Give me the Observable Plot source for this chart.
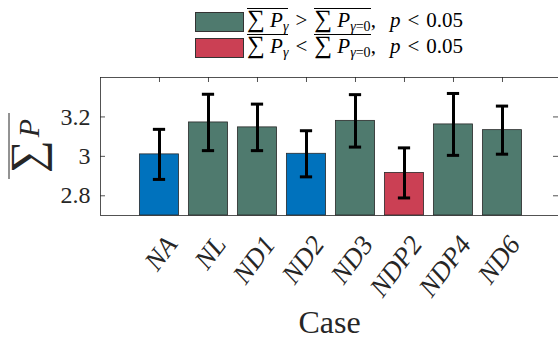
<!DOCTYPE html>
<html>
<head>
<meta charset="utf-8">
<script src="https://cdn.jsdelivr.net/npm/d3@7"></script>
<script src="https://cdn.jsdelivr.net/npm/@observablehq/plot@0.6"></script>
<style>
  html, body { margin: 0; padding: 0; background: white; }
  #wrap, #wrap * { font-family: "Liberation Serif" !important; }
  #wrap { position: relative; width: 558px; height: 343px; overflow: hidden; }
  #legend { position: absolute; left: 195px; top: 12px; font-size: 21px; color: #000; }
  .row { display: flex; align-items: center; height: 19.5px; margin-bottom: 6.5px; }
  .sw { display: inline-block; width: 47px; height: 17.5px; border: 1px solid #333; margin-right: 3px; }
  .txt { white-space: nowrap; line-height: 19px; }
  .ol { border-top: 1px solid #000; display: inline-block; line-height: 17px; padding-top: 1px; }
  .txt sub { font-size: 14px; vertical-align: -4px; }
  .sum { font-size: 25px; }
  .op { margin: 0 7px; }
  .gap { display: inline-block; width: 14px; }
</style>
</head>
<body>
<div id="wrap">
  <div id="chart"></div>
  <div id="legend"></div>
</div>
<script>
// ---- data ----
const cases  = ["NA", "NL", "ND1", "ND2", "ND3", "NDP2", "NDP4", "ND6"];
const means  = [3.010, 3.172, 3.147, 3.013, 3.180, 2.916, 3.162, 3.133];
const errors = [0.127, 0.143, 0.118, 0.117, 0.133, 0.127, 0.157, 0.122];
const groups = ["none", "greater", "greater", "none", "greater", "less", "greater", "greater"];
const yTicks = [2.8, 3, 3.2];
const groupNames  = ["none", "greater", "less"];
const groupColors = ["#0072BD", "#4F7A6E", "#CB4054"];
const yDomain = [2.7, 3.4];
const xDomain = [-0.204, 9.143];

const data = cases.map((c, k) => ({i: k + 1, name: c, mean: means[k], err: errors[k], g: groups[k]}));

const FONT = "Liberation Serif";
const W = 558, H = 343, mL = 100, mR = 0, mT = 77, mB = 128;
const frameW = W - mL - mR, frameH = H - mT - mB;

const chart = Plot.plot({
  width: W, height: H,
  marginLeft: mL, marginRight: mR, marginTop: mT, marginBottom: mB,
  x: {domain: xDomain, axis: null},
  y: {domain: yDomain, axis: null},
  color: {domain: groupNames, range: groupColors},
  style: {fontFamily: FONT, color: "#262626", background: "white", overflow: "visible"},
  marks: [
    Plot.tickX(data, {x: "i", insetTop: frameH - 5, stroke: "#262626", strokeWidth: 0.8}),
    Plot.rectY(data, {x1: d => d.i - 0.4, x2: d => d.i + 0.4, y1: () => yDomain[0], y2: "mean", fill: "g", stroke: "#2a2a2a", strokeWidth: 0.8}),
    Plot.ruleX(data, {x: "i", y1: d => d.mean - d.err, y2: d => d.mean + d.err, stroke: "black", strokeWidth: 3}),
    Plot.ruleY(data, {y: d => d.mean + d.err, x1: d => d.i - 0.125, x2: d => d.i + 0.125, stroke: "black", strokeWidth: 3}),
    Plot.ruleY(data, {y: d => d.mean - d.err, x1: d => d.i - 0.125, x2: d => d.i + 0.125, stroke: "black", strokeWidth: 3}),
    Plot.ruleY([yDomain[0], yDomain[1]], {stroke: "#262626", strokeWidth: 0.8}),
    Plot.ruleX([xDomain[0]], {stroke: "#262626", strokeWidth: 0.8}),
    Plot.tickX(data, {x: "i", insetBottom: frameH - 5, stroke: "#262626", strokeWidth: 0.8}),
    Plot.tickY(yTicks, {y: d => d, insetRight: frameW - 5, stroke: "#262626", strokeWidth: 0.8}),
    Plot.tickY(yTicks, {y: d => d, insetLeft: frameW - 5, stroke: "#262626", strokeWidth: 0.8}),
    Plot.text(yTicks, {y: d => d, text: d => (d === 3 ? "3" : d.toFixed(1)), frameAnchor: "left", textAnchor: "end", dx: -10, fontSize: 24, fill: "#262626", fontFamily: FONT}),
    Plot.text(data, {x: "i", text: "name", frameAnchor: "bottom", textAnchor: "end", lineAnchor: "middle", rotate: -53, dx: 12, dy: 24, fontSize: 27, fontStyle: "italic", fill: "#262626", fontFamily: FONT}),
    Plot.text(["Case"], {text: d => d, frameAnchor: "bottom", dy: 117, lineAnchor: "bottom", fontSize: 32, fill: "#262626", fontFamily: FONT})
  ]
});
document.getElementById("chart").appendChild(chart);

// y axis label: overline sum P
const svg = d3.select(chart);
const g = svg.append("g").attr("transform", "translate(42,146) rotate(-90)");
const t = g.append("text").attr("text-anchor", "middle").attr("fill", "#262626");
t.append("tspan").attr("font-size", 46).text("∑");
t.append("tspan").attr("font-size", 30).attr("font-style", "italic").attr("dx", 3).attr("dy", -3).text("P");
g.append("line").attr("x1", -33).attr("x2", 33).attr("y1", -33).attr("y2", -33).attr("stroke", "#262626").attr("stroke-width", 1);

svg.selectAll("text, tspan").style("font-family", FONT);

// legend
const legendLabels = [
  {g: "greater", op: "&gt;"},
  {g: "less", op: "&lt;"}
];
const legend = document.getElementById("legend");
legendLabels.forEach(L => {
  const row = document.createElement("div");
  row.className = "row";
  const col = groupColors[groupNames.indexOf(L.g)];
  row.innerHTML = `<span class="sw" style="background:${col}"></span>` +
    `<span class="txt"><span class="ol"><span class="sum">∑</span> <i>P</i><sub><i>γ</i></sub></span><span class="op">${L.op}</span>` +
    `<span class="ol"><span class="sum">∑</span> <i>P</i><sub><i>γ</i>=0</sub></span>,<span class="gap"></span><i>p</i><span class="op">&lt;</span>0.05</span>`;
  legend.appendChild(row);
});
legend.querySelectorAll("*").forEach(el => el.style.fontFamily = FONT);
</script>
</body>
</html>
